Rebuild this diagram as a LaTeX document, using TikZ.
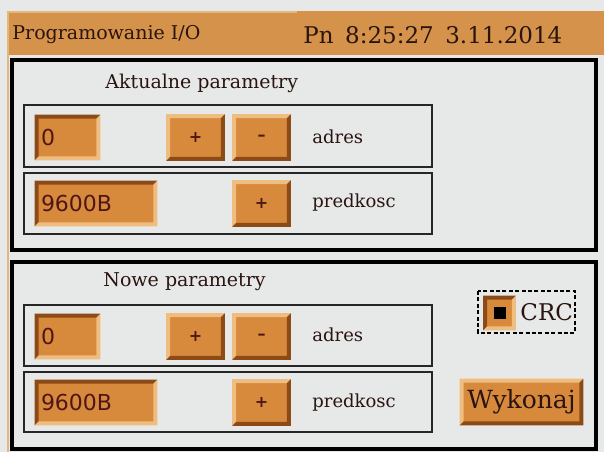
\documentclass[tikz,border=0pt]{standalone}
\usepackage{fontspec}
\setmainfont{DejaVu Serif}
\newfontfamily\polefont{DejaVu Sans}
\usetikzlibrary{positioning}

\definecolor{tlo}{HTML}{E7E9E9}
\definecolor{naglowek}{HTML}{D4924A}
\definecolor{ramka}{HTML}{E2B880}
\definecolor{pomarancz}{HTML}{D88A3C}
\definecolor{jasny}{HTML}{EFBD80}
\definecolor{ciemny}{HTML}{8C4A16}
\definecolor{napisy}{HTML}{2A1410}
\definecolor{cyfry}{HTML}{4E1616}

\begin{document}
\begin{tikzpicture}[x=0.5pt,y=-0.5pt,
    panel/.style={draw=black, line width=1.6pt},
    wiersz/.style={draw=black!85, line width=0.7pt},
    przycisk/.style={
      fill=pomarancz,
      inner sep=0pt,
      minimum width=29pt,
      minimum height=23pt,
      text=cyfry,
      font=\polefont\bfseries\fontsize{8}{9}\selectfont},
    pole/.style={
      fill=pomarancz,
      inner xsep=3pt,
      inner ysep=0pt,
      minimum height=22.5pt,
      align=left,
      text=cyfry,
      font=\polefont\fontsize{11}{13}\selectfont},
    napis/.style={anchor=west, inner sep=0pt, text=napisy,
      font=\fontsize{9}{11}\selectfont}
    ]

  \def\bv{2pt}

  \useasboundingbox (0,0) rectangle (604,452);
  \fill[tlo] (0,0) rectangle (604,452);

  % okno i naglowek
  \fill[naglowek] (7,11) rectangle (604,55);
  \draw[ramka, line width=1pt] (8,11) -- (8,452);
  \draw[ramka, line width=1pt] (8,12) -- (297,12);

  \node at (12,35) (tytul) [napis, font=\fontsize{9.5}{11}\selectfont] {Programowanie I/O};
  \node at (303,35) (data) [napis, font=\fontsize{11.5}{13}\selectfont] {Pn\enspace 8:25:27\enspace 3.11.2014};

  % panele
  \draw[panel] (12,60) rectangle (596,250);
  \draw[panel] (12,262) rectangle (596,449);

  \draw[wiersz] (24,105) rectangle (432,167);
  \draw[wiersz] (24,173) rectangle (432,234);
  \draw[wiersz] (24,305) rectangle (432,366);
  \draw[wiersz] (24,372) rectangle (432,432);

  \node at (105,83) (aktualne) [napis, font=\fontsize{9.5}{11}\selectfont] {Aktualne parametry};
  \node at (103,282) (nowe) [napis, font=\fontsize{9.5}{11}\selectfont] {Nowe parametry};

  % pola i przyciski
  \node at (67.5,137.5) (adres1) [pole, text width=26.5pt] {0};
  \node at (96,203.5) (predkosc1) [pole, text width=55pt] {9600B};
  \node at (67.5,336.5) (adres2) [pole, text width=26.5pt] {0};
  \node at (96,402.5) (predkosc2) [pole, text width=55pt] {9600B};

  \node at (195.5,137.5) (plus1) [przycisk] {+};
  \node at (261.5,137.5) (minus1) [przycisk] {–};
  \node at (261.5,203.5) (plus2) [przycisk] {+};
  \node at (195.5,336.5) (plus3) [przycisk] {+};
  \node at (261.5,336.5) (minus3) [przycisk] {–};
  \node at (261.5,402.5) (plus4) [przycisk] {+};

  \node at (312,137) (opis1) [napis] {adres};
  \node at (312,203) (opis2) [napis] {predkosc};
  \node at (312,335) (opis3) [napis] {adres};
  \node at (312,403) (opis4) [napis] {predkosc};

  % CRC i Wykonaj
  \node at (499.5,313) (kwadrat) [przycisk, minimum width=16pt, minimum height=17pt] {};
  \node at (kwadrat.center) (znacznik) [fill=black, inner sep=0pt, minimum size=6pt] {};
  \node at (520,312) (crc) [napis, font=\fontsize{11.5}{14}\selectfont] {CRC};
  \draw[line width=0.6pt, dash pattern=on 2pt off 1.2pt] (478,291) rectangle (575,333);

  \node at (521.5,402) (wykonaj) [przycisk, minimum width=61.5pt, minimum height=23pt,
    font=\fontsize{12.5}{14}\selectfont, text=napisy] {Wykonaj};

  % wypukle
  \foreach \n in {plus1,minus1,plus2,plus3,minus3,plus4,wykonaj} {
    \fill[jasny] (\n.south west) -- (\n.north west) -- (\n.north east)
      -- ([xshift=-\bv,yshift=-\bv]\n.north east) -- ([xshift=\bv,yshift=-\bv]\n.north west)
      -- ([xshift=\bv,yshift=\bv]\n.south west) -- cycle;
    \fill[ciemny] (\n.north east) -- (\n.south east) -- (\n.south west)
      -- ([xshift=\bv,yshift=\bv]\n.south west) -- ([xshift=-\bv,yshift=\bv]\n.south east)
      -- ([xshift=-\bv,yshift=-\bv]\n.north east) -- cycle;
  }
  % wklesle
  \foreach \n in {adres1,predkosc1,adres2,predkosc2,kwadrat} {
    \fill[ciemny] (\n.south west) -- (\n.north west) -- (\n.north east)
      -- ([xshift=-\bv,yshift=-\bv]\n.north east) -- ([xshift=\bv,yshift=-\bv]\n.north west)
      -- ([xshift=\bv,yshift=\bv]\n.south west) -- cycle;
    \fill[jasny] (\n.north east) -- (\n.south east) -- (\n.south west)
      -- ([xshift=\bv,yshift=\bv]\n.south west) -- ([xshift=-\bv,yshift=\bv]\n.south east)
      -- ([xshift=-\bv,yshift=-\bv]\n.north east) -- cycle;
  }

\end{tikzpicture}
\end{document}
